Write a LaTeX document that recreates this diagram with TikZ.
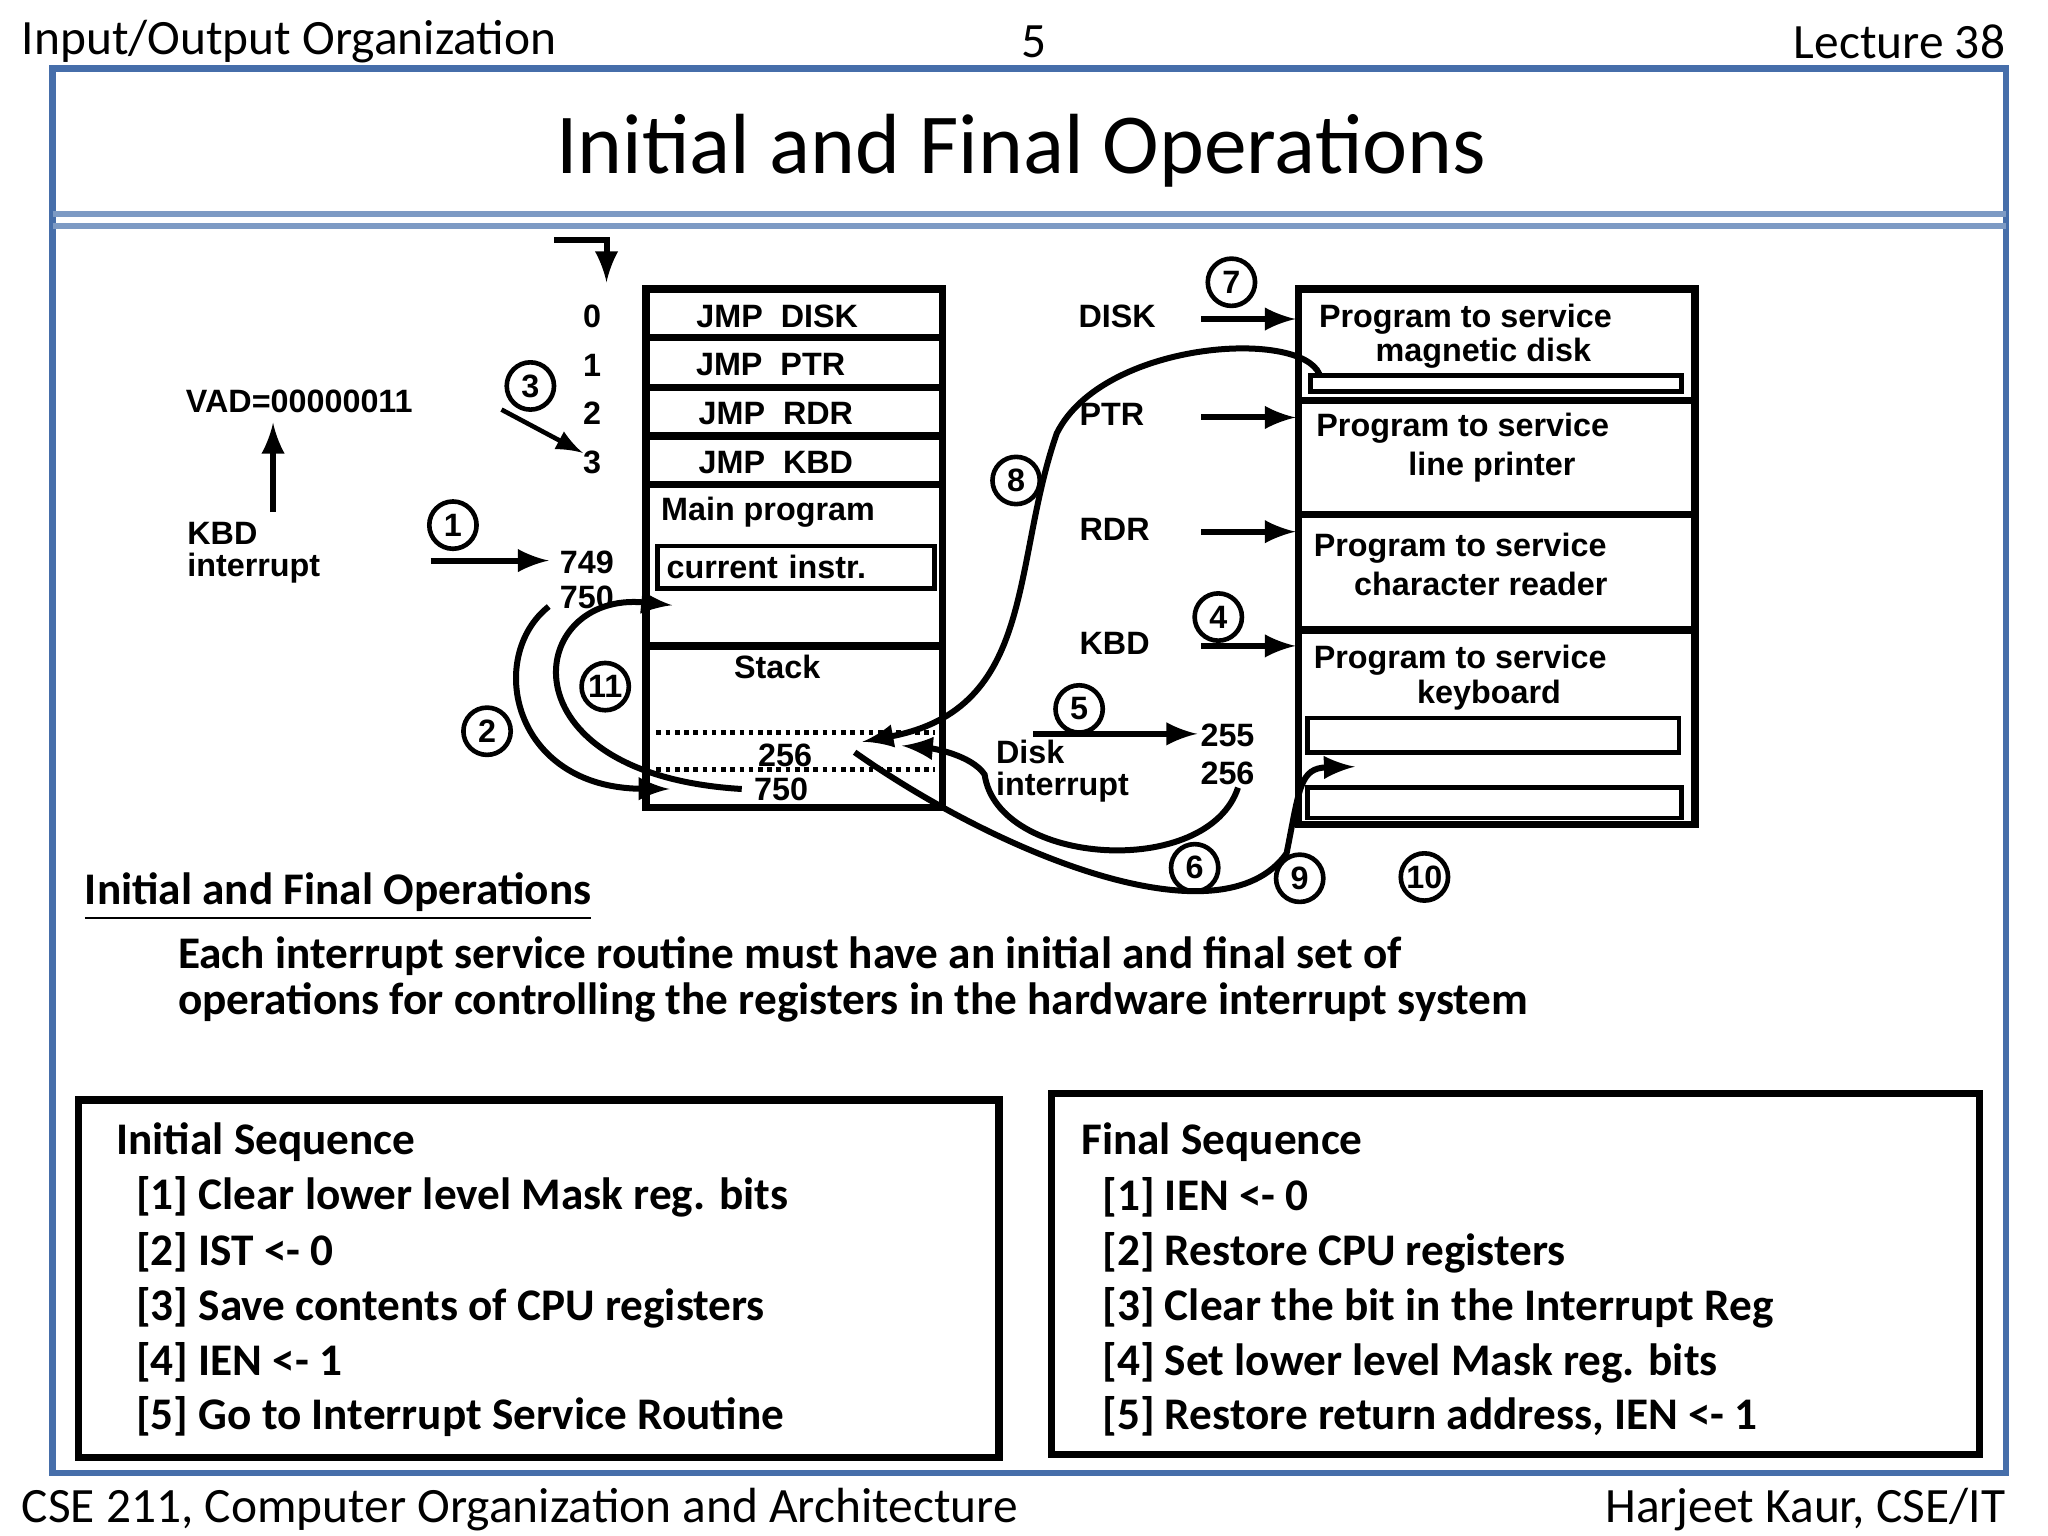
\documentclass[tikz,border=0pt]{standalone}
\usepackage{fontspec}
\setmainfont{Carlito}
\newfontfamily\arialb{Liberation Sans}
\definecolor{frameblue}{RGB}{70,110,170}
\usetikzlibrary{positioning,arrows}
\begin{document}
\begin{tikzpicture}[x=0.01cm,y=-0.01cm,
		lbl/.style={font=\arialb\bfseries\fontsize{7}{8}\selectfont,inner sep=0pt},
		prog/.style={lbl,align=left,anchor=west},
		cell/.style={draw,line width=1.6pt},
		num/.style={draw,circle,line width=1pt,minimum size=0.36cm,inner sep=0pt,
		  font=\arialb\bfseries\fontsize{7}{8}\selectfont},
		arr/.style={-latex,line width=1.3pt},
		seq/.style={font=\bfseries\fontsize{9.8}{11}\selectfont,anchor=west,inner sep=0pt},
		hdr/.style={font=\fontsize{10.7}{12}\selectfont,inner sep=0pt}
		]
		\useasboundingbox (0,0) rectangle (1560,1170);
		% header and frame
		\node[anchor=west,hdr] (hl) at (16,32) {Input/Output Organization};
		\node[hdr] (hc) at (788,32) {5};
		\node[anchor=east,hdr] (hr) at (1528,32) {Lecture 38};
		\draw[line width=1.5pt,frameblue] (40,52) rectangle (1528,1122);
		\draw[line width=1.2pt,frameblue!70] (40,163) -- (1528,163);
		\draw[line width=1.2pt,frameblue!70] (40,172) -- (1528,172);
		\node[font=\fontsize{18.5}{22}\selectfont] (title) at (778,115) {Initial and Final Operations};
		% memory
		\draw[cell] (492,220) rectangle (718,615);
		\foreach \y in {257,295,332,369,492} \draw[cell] (492,\y) -- (718,\y);
		\node[lbl] (m0) at (592,241) {JMP\ \ DISK};
		\node[lbl] (m1) at (587,278) {JMP\ \ PTR};
		\node[lbl] (m2) at (591,315) {JMP\ \ RDR};
		\node[lbl] (m3) at (591,352) {JMP\ \ KBD};
		\node[lbl] (mp) at (585,390) {Main program};
		\node[lbl,draw,line width=1pt,minimum height=0.31cm,anchor=west,inner sep=2pt,text width=1.97cm] (ci) at (499,432) {current instr.};
		\node[lbl] (st) at (592,508) {Stack};
		\draw[densely dotted,line width=1pt] (500,558) -- (712,558);
		\draw[densely dotted,line width=1pt] (500,586) -- (712,586);
		\node[lbl] (s256) at (598,575) {256};
		\node[lbl] (s750) at (595,601) {750};
		\foreach \n/\y in {0/241,1/278,2/315,3/352} \node[lbl] (a\n) at (451,\y) {\n};
		\node[lbl] (a749) at (447,428) {749};
		\node[lbl] (a750) at (447,455) {750};
		% service programs
		\draw[cell] (989,220) rectangle (1291,628);
		\foreach \y in {305,392,480} \draw[cell] (989,\y) -- (1291,\y);
		\draw[line width=1pt] (998,286) rectangle (1281,298);
		\draw[line width=1pt] (996,547) rectangle (1279,573);
		\draw[line width=1pt] (996,600) rectangle (1281,623);
		\node[prog] (p1) at (1004,256) {Program to service\\[-0.2ex]\hspace*{1.75em}magnetic disk};
		\node[prog] (p2) at (1002,341) {Program to service\\[0.1ex]\hspace*{2.85em}line printer};
		\node[prog] (p3) at (1000,430) {Program to service\\[0.1ex]\hspace*{1.25em}character reader};
		\node[prog] (p4) at (1000,516) {Program to service\\[-0.1ex]\hspace*{3.2em}keyboard};
		\node[lbl] (disk) at (851,241) {DISK};
		\node[lbl] (ptr) at (847,316) {PTR};
		\node[lbl] (rdr) at (849,403) {RDR};
		\node[lbl] (kbd) at (849,490) {KBD};
		\foreach \y in {243,318,405,492} \draw[arr] (915,\y) -- (987,\y);
		% interrupt labels
		\node[lbl] (vad) at (228,306) {VAD=00000011};
		\node[lbl,align=left,anchor=north west] (kint) at (142,397) {KBD\\[-0.3ex]interrupt};
		\node[lbl,align=left,anchor=north west] (dint) at (758,563) {Disk\\[-0.3ex]interrupt};
		\node[lbl] (d255) at (935,560) {255};
		\node[lbl] (d256) at (935,589) {256};
		\draw[arr] (208,390) -- (208,322);
		\draw[arr] (328,427) -- (418,427);
		\draw[arr,line width=1pt] (382,312) -- (444,345);
		\draw[arr] (422,183) -- (462,183) -- (462,215);
		\draw[arr] (787,559) -- (912,559);
		% numbered steps
		\foreach \n/\x/\y in {7/938/215,3/404/294,8/774/366,1/345/400,4/928/470,11/461/523,
		  5/822/540,2/371/557,6/910/661,9/990/669,10/1085/668}
		  \node[num] (c\n) at (\x,\y) {\n};
		% flow curves
		\draw[arr] (418,462) .. controls (370,500) and (390,600) .. (510,601);
		\draw[arr] (565,601) .. controls (380,590) and (400,450) .. (512,461);
		\draw[arr] (1005,285) .. controls (990,250) and (840,260) .. (805,330)
		  .. controls (770,430) and (790,540) .. (657,565);
		\draw[arr] (943,600) .. controls (920,670) and (760,660) .. (750,590)
		  .. controls (740,575) and (710,570) .. (687,568);
		\draw[arr] (651,573) .. controls (760,650) and (930,720) .. (980,650)
		  .. controls (990,600) and (990,585) .. (1032,584);
		% text below diagram
		\node[anchor=west,font=\bfseries\fontsize{9.8}{11}\selectfont,inner sep=0pt] (iff) at (64,683) {\underline{Initial and Final Operations}};
		\node[anchor=north west,align=left,font=\bfseries\fontsize{9.8}{9.8}\selectfont,inner sep=0pt] (body) at (135,713)
		  {Each interrupt service routine must have an initial and final set of\\operations for controlling the registers in the hardware interrupt system};
		% sequence boxes
		\draw[line width=1.6pt] (60,838) rectangle (761,1110);
		\draw[line width=1.6pt] (801,833) rectangle (1508,1108);
		\node[seq] (is) at (88,870) {Initial Sequence};
		\node[seq] (is1) at (103,912) {[1] Clear lower level Mask reg. bits};
		\node[seq] (is2) at (103,954) {[2] IST <- 0};
		\node[seq] (is3) at (103,996) {[3] Save contents of CPU registers};
		\node[seq] (is4) at (103,1038) {[4] IEN <- 1};
		\node[seq] (is5) at (103,1079) {[5] Go to Interrupt Service Routine};
		\node[seq] (fs) at (823,870) {Final Sequence};
		\node[seq] (fs1) at (839,912) {[1] IEN <- 0};
		\node[seq] (fs2) at (839,954) {[2] Restore CPU registers};
		\node[seq] (fs3) at (839,996) {[3] Clear the bit in the Interrupt Reg};
		\node[seq] (fs4) at (839,1038) {[4] Set lower level Mask reg. bits};
		\node[seq] (fs5) at (839,1079) {[5] Restore return address, IEN <- 1};
		% footer
		\node[anchor=west,hdr] (fl) at (16,1150) {CSE 211, Computer Organization and Architecture};
		\node[anchor=east,hdr] (fr) at (1528,1150) {Harjeet Kaur, CSE/IT};
	\end{tikzpicture}
\end{document}
